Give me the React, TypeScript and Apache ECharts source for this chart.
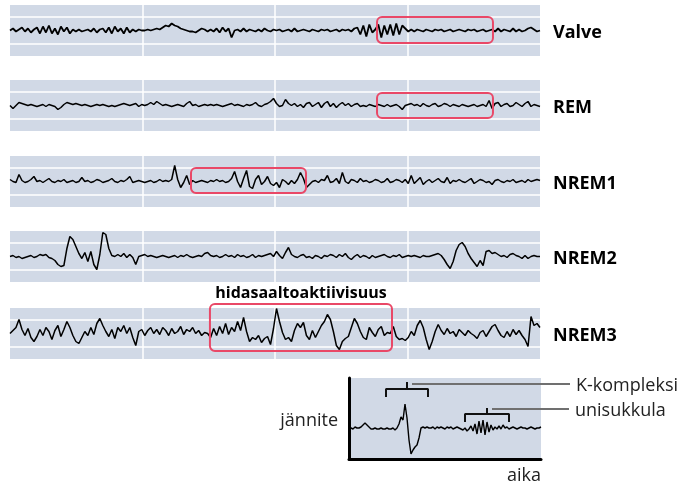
import React, { useEffect, useRef } from "react";
import * as echarts from "echarts";

const FONT = "'Open Sans', 'Noto Sans', sans-serif";

// Stage names (right-hand labels)
const stageLabels = ["Valve", "REM", "NREM1", "NREM2", "NREM3"];

// EEG traces: deviation (px-like units) from each strip's centre, equally spaced in time
const valve = [0,2,-1,1,3,-1,2,-2,1,
  3,-3,4,-2,5,-3,2,-4,4,-1,3,-3,1,-1,
  1,-1,0,1,-1,2,-2,1,
  2,-2,3,-3,4,-1,2,-3,3,-2,1,-1,1,0,
  0,1,0,1,2,1,
  3,5,4,7,5,4,
  2,1,0,-1,-1,-2,
  0,2,1,-1,
  1,-1,2,-2,3,-1,2,-7,0,
  1,-1,2,-1,1,0,-1,1,-1,2,0,-1,1,
  0,1,-1,0,1,-1,2,-1,0,1,0,-1,1,0,-1,1,0,1,-1,0,1,-1,1,0,1,-1,2,
  3,-4,5,-6,6,
  -2,1,
  6,-7,5,-4,6,-5,7,-4,5,
  2,-1,1,-1,1,0,-1,1,0,-1,1,0,1,-1,0,1,-1,0,1,0,-1,1,0,1,-1,0,1,-1,0,
  1,-1,2,-1,1,0,-1,2,-1,1,-1,0,2,3,1,-1,0];

const rem = [0,-3,0,3,2,1,0,1,0,-1,0,
  1,-1,1,0,-1,-4,-2,1,3,2,1,2,
  1,0,1,0,-1,0,1,0,1,0,-1,
  0,-1,0,1,2,1,0,1,2,-1,1,0,
  1,3,1,4,2,0,1,0,-1,0,1,
  0,-1,2,4,0,1,-1,0,1,0,1,
  0,1,0,-1,0,1,2,0,1,0,-1,1,0,
  1,3,0,-1,1,2,4,7,
  2,-1,0,6,2,0,2,-1,1,-2,2,
  3,-1,1,3,-2,2,4,-1,2,-2,1,3,0,2,-1,1,
  2,-1,0,-1,1,0,-1,1,0,-1,
  1,-1,0,1,-1,-4,0,1,2,0,1,-1,2,0,-1,1,2,-1,0,2,1,-1,1,0,-1,1,0,-1,0,1,-1,0,1,-1,5,
  -3,2,3,-1,1,2,-1,0,3,1,-1,2,4,-1,1,0,-1];

const nrem1 = [2,0,-1,7,1,-1,0,2,5,0,1,
  -1,1,3,0,-1,1,0,2,-1,0,1,-1,
  0,4,0,1,-1,0,2,1,-1,0,1,
  3,0,-1,1,0,2,5,-1,0,1,0,-1,
  0,1,-1,0,2,0,1,0,2,
  16,2,-6,-1,6,-3,
  1,-1,0,1,0,-1,1,0,2,0,1,-1,0,3,
  10,0,-6,3,11,-5,-7,2,6,-3,0,5,-2,-4,
  -1,-6,2,0,-3,1,-2,2,9,3,
  -6,-3,0,1,-1,2,1,
  6,-1,0,3,-2,9,0,-2,2,1,-1,3,0,1,-1,
  0,2,1,-1,0,3,-1,0,2,1,-1,2,-2,
  6,-2,1,4,-3,0,2,-1,1,3,0,-1,4,-2,1,0,2,
  0,-1,1,3,-2,0,2,1,-1,0,-3,1,2,0,-1,1,0,2,-1,0,1,-1,2,0,1,2,1];

const nrem2 = [0,1,-1,0,-2,-1,0,1,-1,0,2,1,
  2,-1,-2,-4,
  -8,-10,-9,
  8,20,17,10,3,-2,
  4,-5,5,-8,-13,2,24,22,8,1,0,
  2,0,3,-1,2,-1,-8,0,
  1,2,0,1,0,-1,0,1,0,-1,0,1,-1,1,0,2,0,-1,0,1,0,3,4,
  1,0,1,-1,0,2,0,1,-1,2,0,1,-1,0,2,-1,1,0,1,2,3,0,
  5,1,-2,4,9,
  2,0,-1,1,2,-1,0,-2,1,0,-2,1,0,2,1,-1,2,0,3,-1,-3,0,
  2,-1,1,0,-2,1,-1,0,1,2,0,-1,1,0,2,-1,0,1,
  0,1,0,-1,1,0,0,1,2,
  3,1,-3,-8,-12,
  -5,6,12,14,10,3,
  -2,-6,-10,-4,-9,5,6,
  3,4,2,0,1,-1,2,3,1,0,-2,1,-2,0,1,0,0];

const nrem3 = [0,3,6,14,4,-2,5,-4,-8,-3,4,-2,
  6,2,-6,3,8,-3,4,12,6,-2,-8,
  -10,-4,2,-2,6,-1,10,15,8,2,-3,
  4,-5,6,2,8,0,6,-4,-12,2,4,-2,
  3,6,0,4,-1,6,3,-2,5,0,2,
  7,-1,4,2,6,0,3,-2,1,0,
  -4,5,-2,7,0,10,-1,6,2,12,3,
  16,2,-8,-4,-6,-2,-9,-5,
  -3,-11,5,25,
  12,1,-6,-4,-8,3,
  10,6,11,-2,-6,3,
  -4,2,8,12,19,14,2,
  -12,-16,-8,-5,-3,
  6,15,10,2,-4,-6,
  6,1,-3,4,7,-2,1,0,
  7,-3,-6,-5,-7,
  -4,2,-2,8,13,6,-6,
  -16,-8,2,9,
  3,-1,5,0,2,-3,4,1,-2,3,0,-2,-5,1,3,-3,2,7,9,3,-2,-4,
  2,-3,4,-1,3,-2,-6,-13,17,8,10,6];

// Inset example trace (K-complex and sleep spindle)
const insetTrace = [0,0,-1,1,0,0,
  1,3,5,3,1,
  -1,-1,0,-1,-1,0,-1,-1,0,-1,
  -1,0,-2,0,
  4,11,8,24,10,-12,-26,-22,-19,-17,-10,0,
  1,0,1,0,0,1,-1,1,0,1,0,-1,1,0,1,-1,0,1,0,
  -1,-2,0,-3,-1,
  2,-3,4,-6,7,-5,8,-7,6,-4,3,-2,
  1,-1,2,-1,3,0,1,-1,
  0,1,0,-1,0,1,0,0,-1,0,1,0,-1,0,0,1];

// Inset annotations (inset data units)
const kBracket = [[37,31],[37,39],[58,39],[58,46],[58,39],[79,39],[79,31]];
const spindleBracket = [[116,6],[116,14],[138,14],[138,20],[138,14],[160,14],[160,6]];
const kLeader = [[63,44],[221,44]];
const spindleLeader = [[143,19],[220,19]];
const annotationNames = ["K-kompleksi", "unisukkula"];

// Highlight boxes: [strip, xStart, xEnd, yTop, yBottom]
const highlights = [
  [0, 277, 364.5, 13.5, -12.5],
  [1, 277, 364.5, 12.5, -12.5],
  [2, 136.6, 223.4, 13.5, -11.5],
  [4, 150.9, 288.3, 29.5, -17.5],
];
const highlightTitle = "hidasaaltoaktiivisuus";

// Horizontal grid values inside each strip
const stripGridValues = [13.5, -13.5];

const traces = [valve, rem, nrem1, nrem2, nrem3];

export default function App() {
  const ref = useRef<HTMLDivElement>(null);

  useEffect(() => {
    if (!ref.current) return;
    const chart = echarts.init(ref.current, undefined, { renderer: "svg" });
    const stripTops = [5, 80, 156, 231, 308];
    const bg = "#d1d9e6";

    const grids: any[] = stripTops.map((t) => ({
      left: 10, top: t, width: 530, height: 51,
      show: true, backgroundColor: bg, borderWidth: 0,
    }));
    grids.push({ left: 349, top: 378, width: 192, height: 81, show: true, backgroundColor: bg, borderWidth: 0 });

    const xAxes: any[] = stripTops.map((_, i) => ({
      type: "value", gridIndex: i, min: 0, max: 400, interval: 100,
      axisLine: { show: false }, axisTick: { show: false }, axisLabel: { show: false },
      splitLine: { show: true, showMinLine: false, showMaxLine: false, lineStyle: { color: "#ffffff", width: 1.5 } },
    }));
    xAxes.push({
      type: "value", gridIndex: 5, min: 0, max: 192,
      axisLine: { show: true, onZero: false, lineStyle: { color: "#000", width: 3 } },
      axisTick: { show: false }, axisLabel: { show: false }, splitLine: { show: false },
      name: "aika", nameLocation: "end", nameGap: 0,
      nameTextStyle: { fontFamily: FONT, fontSize: 18, color: "#222", align: "right", verticalAlign: "top", padding: [6, 0, 0, 0] },
    });

    const yAxes: any[] = stripTops.map((_, i) => ({
      type: "value", gridIndex: i, min: -25.5, max: 25.5, position: "right",
      axisLine: { show: false }, axisTick: { show: false }, axisLabel: { show: false }, splitLine: { show: false },
      name: stageLabels[i], nameLocation: "middle", nameRotate: 0, nameGap: 13,
      nameTextStyle: { fontFamily: FONT, fontWeight: "bold", fontSize: 18, color: "#000", align: "left", verticalAlign: "middle" },
    }));
    yAxes.push({
      type: "value", gridIndex: 5, min: -31, max: 50,
      axisLine: { show: true, onZero: false, lineStyle: { color: "#000", width: 3 } },
      axisTick: { show: false }, axisLabel: { show: false }, splitLine: { show: false },
      name: "jännite", nameLocation: "middle", nameRotate: 0, nameGap: 11,
      nameTextStyle: { fontFamily: FONT, fontSize: 18, color: "#222", align: "right", verticalAlign: "middle" },
    });

    const series: any[] = traces.map((arr, i) => ({
      type: "line", xAxisIndex: i, yAxisIndex: i, z: 3,
      data: arr.map((v, j) => [(j * 400) / (arr.length - 1), v]),
      symbol: "none", showSymbol: false,
      lineStyle: { color: "#000", width: i === 0 ? 1.8 : 1.5 },
      markLine: {
        z: 1, silent: true, symbol: "none", label: { show: false },
        lineStyle: { color: "#ffffff", width: 1.5, type: "solid" },
        data: stripGridValues.map((v) => ({ yAxis: v })),
      },
    }));

    series.push({
      type: "line", xAxisIndex: 5, yAxisIndex: 5, z: 3,
      data: insetTrace.map((v, j) => [(j * 192) / (insetTrace.length - 1), v]),
      symbol: "none", showSymbol: false, lineStyle: { color: "#000", width: 1.4 },
    });
    [kBracket, spindleBracket].forEach((b) => {
      series.push({
        type: "line", xAxisIndex: 5, yAxisIndex: 5, z: 3, clip: false,
        data: b, symbol: "none", showSymbol: false, lineStyle: { color: "#111", width: 2 },
      });
    });

    chart.setOption({
      animation: false,
      textStyle: { fontFamily: FONT },
      grid: grids, xAxis: xAxes, yAxis: yAxes, series,
    });

    const graphics: any[] = [];
    highlights.forEach((h, k) => {
      const p0 = chart.convertToPixel({ gridIndex: h[0] } as any, [h[1], h[3]]) as number[];
      const p1 = chart.convertToPixel({ gridIndex: h[0] } as any, [h[2], h[4]]) as number[];
      graphics.push({
        type: "rect", z: 10,
        shape: { x: p0[0], y: p0[1], width: p1[0] - p0[0], height: p1[1] - p0[1], r: 5 },
        style: { fill: "none", stroke: "#e94867", lineWidth: 2 },
      });
      if (k === highlights.length - 1) {
        graphics.push({
          type: "text", z: 10,
          x: (p0[0] + p1[0]) / 2, y: p0[1] - 12,
          style: { text: highlightTitle, fontFamily: FONT, fontWeight: "bold", fontSize: 16, fill: "#000", align: "center", verticalAlign: "middle" },
        });
      }
    });
    [kLeader, spindleLeader].forEach((l, k) => {
      const a = chart.convertToPixel({ gridIndex: 5 } as any, l[0]) as number[];
      const b = chart.convertToPixel({ gridIndex: 5 } as any, l[1]) as number[];
      graphics.push({
        type: "line", z: 10,
        shape: { x1: a[0], y1: a[1], x2: b[0], y2: b[1] },
        style: { stroke: "#707070", lineWidth: 1.8 },
      });
      graphics.push({
        type: "text", z: 10, x: b[0] + 6, y: b[1],
        style: { text: annotationNames[k], fontFamily: FONT, fontSize: 18, fill: "#222", align: "left", verticalAlign: "middle" },
      });
    });
    chart.setOption({ graphic: graphics });

    return () => chart.dispose();
  }, []);

  return <div ref={ref} style={{ position: "fixed", left: 0, top: 0, width: 687, height: 488 }} />;
}
